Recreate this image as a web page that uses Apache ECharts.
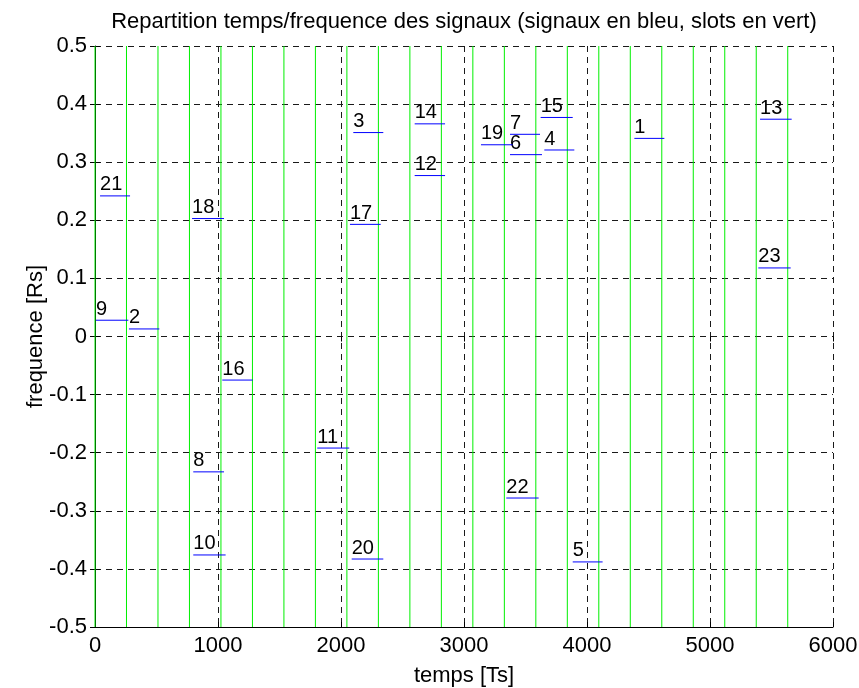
<!DOCTYPE html>
<html>
<head>
<meta charset="utf-8">
<script src="https://cdn.jsdelivr.net/npm/echarts@6/dist/echarts.min.js"></script>
<style>
  html, body { margin: 0; padding: 0; background: #fff; }
  #chart { width: 859px; height: 688px; }
</style>
</head>
<body>
<div id="chart"></div>
<script>
// Slot boundaries (time axis, in Ts)
const slotTimes = [0, 256, 512, 768, 1024, 1280, 1536, 1792, 2048, 2304, 2560, 2816,
  3072, 3328, 3584, 3840, 4096, 4352, 4608, 4864, 5120, 5376, 5632];

// Signals: number, start time, end time, frequency
const signalIds   = [1, 2, 3, 4, 5, 6, 7, 8, 9, 10, 11, 12, 13, 14, 15, 16, 17, 18, 19, 20, 21, 22, 23];
const signalStart = [4385, 276, 2100, 3653, 3884, 3374, 3374, 799, 8, 799, 1807, 2599, 5407, 2599, 3623, 1035, 2073, 789, 3138, 2087, 41, 3344, 5393];
const signalEnd   = [4629, 523, 2344, 3897, 4127, 3634, 3618, 1049, 271, 1062, 2067, 2846, 5664, 2846, 3884, 1282, 2323, 1049, 3396, 2344, 285, 3607, 5656];
const signalFreq  = [0.341, 0.013, 0.351, 0.321, -0.388, 0.313, 0.348, -0.233, 0.028, -0.376, -0.192, 0.277, 0.374, 0.366, 0.377, -0.075, 0.193, 0.203, 0.330, -0.383, 0.242, -0.278, 0.118];

// Axis ticks
const xTicks = [0, 1000, 2000, 3000, 4000, 5000, 6000];
const xTickLabels = ['0', '1000', '2000', '3000', '4000', '5000', '6000'];
const yTicks = [-0.5, -0.4, -0.3, -0.2, -0.1, 0, 0.1, 0.2, 0.3, 0.4, 0.5];
const yTickLabels = ['-0.5', '-0.4', '-0.3', '-0.2', '-0.1', '0', '0.1', '0.2', '0.3', '0.4', '0.5'];

const FONT = '"Liberation Sans", Arial, Helvetica, sans-serif';
const AXIS_FONT_SIZE = 22;
const MARK_FONT_SIZE = 20;
const chart = echarts.init(document.getElementById('chart'), null, { renderer: 'canvas' });

const gridDash = { type: [6, 5], color: '#1a1a1a', width: 1 };

function lookup(ticks, labels) {
  return function (v) {
    for (let i = 0; i < ticks.length; i++) {
      if (Math.abs(ticks[i] - v) < 1e-9) return labels[i];
    }
    return '';
  };
}

const option = {
  animation: false,
  backgroundColor: '#fff',
  grid: { left: 95, right: 26, top: 46, bottom: 61, containLabel: false, outerBoundsMode: 'none' },
  xAxis: [
    {
      type: 'value', position: 'bottom',
      min: xTicks[0], max: xTicks[xTicks.length - 1], interval: xTicks[1] - xTicks[0],
      axisLine: { show: true, onZero: false, lineStyle: { color: '#000', width: 1 } },
      axisTick: { show: true, inside: true, length: 5, lineStyle: { color: '#000' } },
      axisLabel: { margin: 8, color: '#000', fontSize: AXIS_FONT_SIZE, fontFamily: FONT,
        formatter: lookup(xTicks, xTickLabels) },
      splitLine: { show: true, lineStyle: gridDash },
      name: 'temps [Ts]', nameLocation: 'middle', nameGap: 38, nameMoveOverlap: false,
      nameTextStyle: { color: '#000', fontSize: AXIS_FONT_SIZE, fontFamily: FONT, verticalAlign: 'top' }
    },
    {
      type: 'value', position: 'top',
      min: xTicks[0], max: xTicks[xTicks.length - 1], interval: xTicks[1] - xTicks[0],
      axisLine: { show: false },
      axisTick: { show: true, inside: true, length: 5, lineStyle: { color: '#000' } },
      axisLabel: { show: false },
      splitLine: { show: false },
      name: 'Repartition temps/frequence des signaux (signaux en bleu, slots en vert)',
      nameLocation: 'middle', nameGap: 13, nameMoveOverlap: false,
      nameTextStyle: { color: '#000', fontSize: AXIS_FONT_SIZE, fontFamily: FONT }
    }
  ],
  yAxis: [
    {
      type: 'value', position: 'left',
      min: yTicks[0], max: yTicks[yTicks.length - 1], interval: 0.1,
      axisLine: { show: true, onZero: false, lineStyle: { color: '#000', width: 1 } },
      axisTick: { show: true, inside: true, length: 5, lineStyle: { color: '#000' } },
      axisLabel: { margin: 8, color: '#000', fontSize: AXIS_FONT_SIZE, fontFamily: FONT,
        formatter: lookup(yTicks, yTickLabels) },
      splitLine: { show: true, lineStyle: gridDash },
      name: 'frequence [Rs]', nameLocation: 'middle', nameGap: 48, nameMoveOverlap: false,
      nameTextStyle: { color: '#000', fontSize: AXIS_FONT_SIZE, fontFamily: FONT }
    },
    {
      type: 'value', position: 'right',
      min: yTicks[0], max: yTicks[yTicks.length - 1], interval: 0.1,
      axisLine: { show: false },
      axisTick: { show: true, inside: true, length: 5, lineStyle: { color: '#000' } },
      axisLabel: { show: false },
      splitLine: { show: false }
    }
  ],
  series: [
    {
      // green vertical slot boundaries
      type: 'custom',
      xAxisIndex: 0, yAxisIndex: 0,
      data: slotTimes.map(t => [t, 0]),
      encode: { x: 0, y: 1 },
      silent: true,
      z: 3,
      renderItem: function (params, api) {
        const t = api.value(0);
        const p0 = api.coord([t, yTicks[0]]);
        const p1 = api.coord([t, yTicks[yTicks.length - 1]]);
        return {
          type: 'line',
          shape: { x1: p0[0], y1: p0[1], x2: p1[0], y2: p1[1] },
          style: { stroke: '#00f000', lineWidth: 1 }
        };
      }
    },
    {
      // blue signal segments with their numbers
      type: 'custom',
      xAxisIndex: 0, yAxisIndex: 0,
      data: signalIds.map((id, i) => [signalStart[i], signalEnd[i], signalFreq[i], id]),
      encode: { x: [0, 1], y: 2 },
      silent: true,
      z: 4,
      renderItem: function (params, api) {
        const p0 = api.coord([api.value(0), api.value(2)]);
        const p1 = api.coord([api.value(1), api.value(2)]);
        return {
          type: 'group',
          children: [
            {
              type: 'line',
              shape: { x1: p0[0], y1: p0[1], x2: p1[0], y2: p1[1] },
              style: { stroke: '#0000ff', lineWidth: 1 }
            },
            {
              type: 'text',
              x: p0[0], y: p0[1] - 11,
              style: {
                text: String(api.value(3)),
                fill: '#000',
                font: MARK_FONT_SIZE + 'px ' + FONT,
                align: 'left', verticalAlign: 'middle',
                textAlign: 'left', textVerticalAlign: 'middle'
              }
            }
          ]
        };
      }
    }
  ]
};

chart.setOption(option);
</script>
</body>
</html>
